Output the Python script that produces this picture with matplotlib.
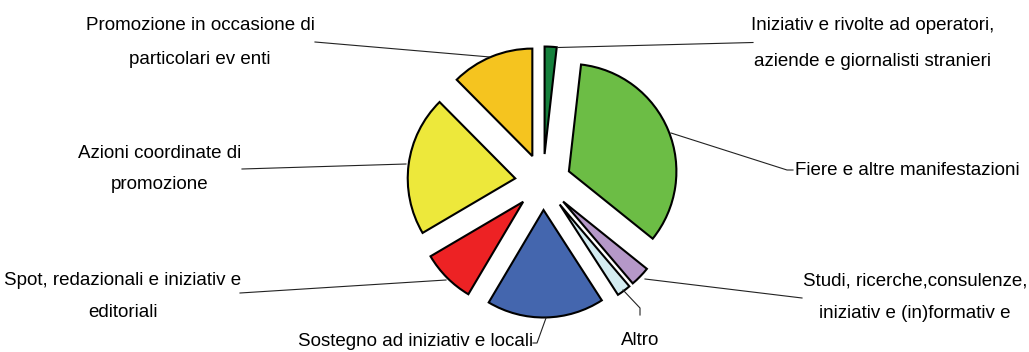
import matplotlib
matplotlib.use("Agg")
import matplotlib.pyplot as plt

# quote per tipo di iniziativa (%), in senso orario da ore 12
categories = [
    "Iniziativ e rivolte ad operatori,\naziende e giornalisti stranieri",
    "Fiere e altre manifestazioni",
    "Studi, ricerche,consulenze,\niniziativ e (in)formativ e",
    "Altro",
    "Sostegno ad iniziativ e locali",
    "Spot, redazionali e iniziativ e\neditoriali",
    "Azioni coordinate di\npromozione",
    "Promozione in occasione di\nparticolari ev enti",
]
values = [1.8, 33.9, 3.0, 2.1, 17.6, 8.0, 21.0, 12.4]
colors = ["#15803C", "#6CBD45", "#B598C8", "#D3ECF1",
          "#4466AE", "#ED2224", "#EDE83B", "#F5C41F"]

W, H = 1029, 352


def px(x, y):
    # pixel coords (origin top-left) -> data coords
    return x, H - y


# label text position (center x, first baseline y), line step, leader polyline
label_pos = [
    (873, 30, 36, [(558, 47.5), (753, 42.5)]),
    (907, 175, 0, [(671, 133), (787, 170), (793, 170)]),
    (915, 285, 33, [(645, 279), (802, 298)]),
    (640, 345, 0, [(623, 290), (640, 308), (640, 315)]),
    (416, 346, 0, [(546, 318), (537, 343), (533, 343)]),
    (123, 285, 32, [(446, 280), (240, 293)]),
    (160, 158, 31, [(406, 164), (242, 169)]),
    (200, 30, 34, [(490, 57), (315, 42)]),
]

plt.rcParams["font.family"] = ["Liberation Sans", "DejaVu Sans"]

fig = plt.figure(figsize=(W / 100, H / 100), dpi=100)
ax = fig.add_axes([0, 0, 1, 1])

# explode is in data units here (pixels), not in radius units
ax.pie(values, colors=colors, startangle=90, counterclock=False,
       center=px(543, 182), radius=107.5, explode=[28] * len(values),
       wedgeprops=dict(edgecolor="black", linewidth=1.5), frame=True)

for lab, (cx, by, step, leader) in zip(categories, label_pos):
    for i, line in enumerate(lab.split("\n")):
        ax.text(*px(cx, by + i * step), line, ha="center", va="baseline",
                fontsize=13.5, color="black")
    xs = [p[0] for p in leader]
    ys = [H - p[1] for p in leader]
    ax.plot(xs, ys, color="#222222", linewidth=0.8)

ax.set_xlim(0, W)
ax.set_ylim(0, H)
ax.set_aspect("equal")
ax.axis("off")

fig.savefig("out.png", dpi=100)
